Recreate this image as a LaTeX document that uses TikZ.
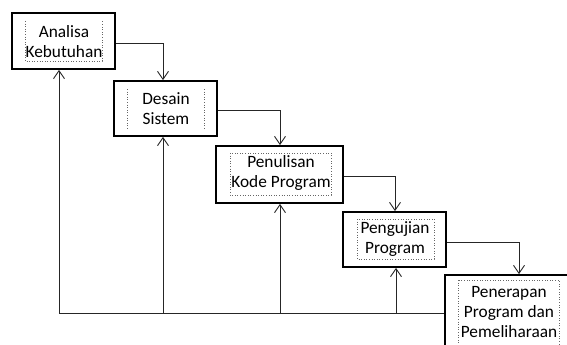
\documentclass[tikz,border=0pt]{standalone}
\usepackage{fontspec}
\setmainfont{Carlito}
\usetikzlibrary{arrows.meta,calc}
\begin{document}
\begin{tikzpicture}[x=1pt,y=-1pt,
  box/.style={draw=black,line width=1.8pt,rectangle,inner sep=0pt},
  lbl/.style={align=center,inner sep=0pt,font=\fontsize{17.3}{20}\selectfont,text=black},
  link/.style={draw=black!85,line width=0.9pt},
  arr/.style={link,-{Straight Barb[length=8pt,width=11pt,line width=0.9pt]}},
  frame/.style={draw=black!60,dotted,line width=0.6pt}]
\useasboundingbox (0,0) rectangle (567,345);
\clip (0,0) rectangle (567,345);
% boxes
\node[box,minimum width=103pt,minimum height=56pt] (b1) at (63.5,41) {};
\node[box,minimum width=103pt,minimum height=55pt] (b2) at (165.5,108.5) {};
\node[box,minimum width=127pt,minimum height=57pt] (b3) at (279.5,174.5) {};
\node[box,minimum width=103pt,minimum height=55pt] (b4) at (394.5,239.5) {};
\node[box,minimum width=140pt,minimum height=90pt] (b5) at (515,320) {};
% inner dotted frames
\draw[frame] (25,21) -- (25,61) -- (102,61) -- (102,21);
\draw[frame] (127,89) -- (127,129);
\draw[frame] (204,89) -- (204,129);
\draw[frame] (230,153) rectangle (331,195);
\draw[frame] (357,219) rectangle (434,259);
\draw[frame] (458,280) rectangle (559,350);
% texts
\node[lbl] (t1) at (64,42) {Analisa\\Kebutuhan};
\node[lbl] (t2) at (166,108.5) {Desain\\Sistem};
\node[lbl] (t3) at (281,173) {Penulisan\\Kode Program};
\node[lbl] (t4) at (395,239) {Pengujian\\Program};
\node[lbl] (t5) at (509,312) {Penerapan\\Program dan\\Pemeliharaan};
% forward connectors
\draw[arr] ([yshift=-2pt]b1.east) -| ([xshift=-2.5pt]b2.north);
\draw[arr] ([yshift=-1.5pt]b2.east) -| ([xshift=0.5pt]b3.north);
\draw[arr] ([yshift=-1.5pt]b3.east) -| ([xshift=0.5pt]b4.north);
\draw[arr] ([yshift=-2.5pt]b4.east) -| ([xshift=4pt]b5.north);
% feedback connectors
\coordinate (fb) at (59,313);
\draw[link] (b5.west |- fb) -- (fb);
\draw[arr] (fb) -- (b1.south -| fb);
\draw[arr] ([xshift=-2.5pt]b2.south |- fb) -- ([xshift=-2.5pt]b2.south);
\draw[arr] ([xshift=0.5pt]b3.south |- fb) -- ([xshift=0.5pt]b3.south);
\draw[arr] ([xshift=1.5pt]b4.south |- fb) -- ([xshift=1.5pt]b4.south);
\end{tikzpicture}
\end{document}
